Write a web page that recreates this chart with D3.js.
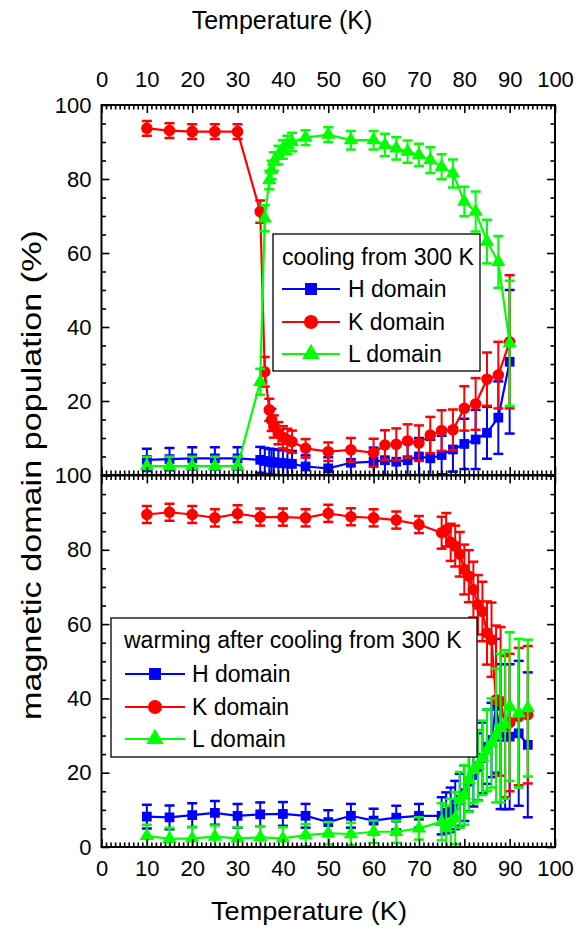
<!DOCTYPE html>
<html>
<head>
<meta charset="utf-8">
<script src="https://cdn.jsdelivr.net/npm/d3@7"></script>
<style>
  html, body { margin: 0; padding: 0; background: #fff; }
  svg { display: block; font-family: "Liberation Sans", Arial, sans-serif; }
</style>
</head>
<body>
<svg id="chart" width="584" height="929"></svg>
<script>
// ---- cooling from 300 K (upper panel) ----
const tempCool = [10, 15, 20, 25, 30, 35, 36, 37, 37.5, 38, 39, 40, 41, 42, 45, 50, 55, 60, 62.5, 65, 67.5, 70, 72.5, 75, 77.5, 80, 82.5, 85, 87.5, 90];
const hCool    = [4.1, 4.3, 4.5, 4.5, 4.5, 4.1, 3.8, 3.6, 3.5, 3.4, 3.3, 3.2, 3.1, 3.0, 2.3, 1.8, 3.3, 3.6, 4.0, 3.6, 4.0, 5.0, 4.5, 5.4, 6.9, 8.4, 9.6, 11.4, 15.5, 30.6];
const kCool    = [93.7, 93.1, 92.8, 92.8, 92.8, 71.2, 27.9, 17.6, 14.9, 13.1, 11.3, 10.2, 9.5, 9.0, 7.2, 6.3, 6.8, 6.0, 8.1, 8.3, 9.2, 8.6, 10.8, 12.0, 12.2, 18.0, 19.2, 25.9, 27.0, 36.0];
const lCool    = [2.4, 2.4, 2.4, 2.4, 2.4, 25.2, 69.4, 79.7, 82.4, 84.7, 86.5, 88.0, 89.2, 90.0, 91.2, 92.0, 90.5, 90.5, 89.2, 88.3, 87.4, 86.5, 85.1, 83.3, 81.5, 73.9, 71.2, 63.1, 57.6, 35.6];
const hCoolErr = [3.0, 3.0, 3.0, 3.0, 3.0, 3.5, 3.5, 3.5, 3.5, 3.5, 3.5, 3.5, 3.5, 3.5, 3.0, 3.0, 3.5, 3.8, 4.0, 4.2, 4.5, 5.0, 5.0, 5.2, 6.0, 6.8, 8.0, 7.0, 9.8, 19.4];
const kCoolErr = [2.0, 2.0, 2.0, 2.0, 2.0, 3.0, 4.0, 3.0, 3.0, 3.0, 3.0, 3.0, 3.0, 3.0, 2.5, 2.5, 3.2, 3.8, 4.0, 4.3, 4.5, 4.8, 4.9, 5.5, 5.5, 6.0, 7.0, 7.2, 9.0, 18.0];
const lCoolErr = [2.5, 2.5, 2.5, 2.5, 2.5, 3.5, 3.5, 2.5, 2.5, 2.5, 2.5, 2.5, 2.5, 2.5, 2.0, 2.0, 2.5, 2.5, 3.0, 3.0, 3.0, 3.0, 3.5, 3.4, 3.8, 4.0, 5.4, 5.9, 7.0, 16.9];

// ---- warming after cooling from 300 K (lower panel) ----
const tempWarm = [10, 15, 20, 25, 30, 35, 40, 45, 50, 55, 60, 65, 70, 75, 76, 77, 78, 79, 80, 81, 82, 83, 84, 85, 86, 87, 88, 89, 90, 92, 94];
const hWarm    = [8.2, 8.0, 8.6, 9.2, 8.4, 8.8, 8.9, 8.4, 6.7, 8.4, 7.1, 7.9, 8.4, 8.4, 9.2, 10.0, 11.3, 12.7, 14.5, 17.6, 19.4, 21.6, 24.0, 27.0, 28.8, 38.0, 29.7, 29.7, 29.7, 30.6, 27.5];
const kWarm    = [89.5, 90.1, 89.5, 88.6, 89.7, 88.8, 88.8, 88.6, 89.8, 88.9, 88.6, 88.0, 86.8, 84.6, 85.4, 82.0, 81.0, 78.8, 74.7, 72.9, 69.3, 65.2, 63.4, 57.6, 55.8, 39.6, 39.2, 32.4, 33.5, 35.1, 35.6];
const lWarm    = [3.0, 2.2, 2.3, 2.8, 2.3, 2.6, 2.3, 3.2, 3.7, 3.5, 4.1, 4.1, 5.0, 6.8, 5.1, 6.5, 7.8, 12.7, 14.0, 18.0, 20.8, 22.0, 24.0, 26.0, 28.0, 30.0, 32.0, 33.0, 37.8, 36.0, 37.4];
const hWarmErr = [3.2, 3.2, 3.2, 3.2, 3.2, 3.2, 3.2, 3.2, 3.2, 3.2, 3.2, 3.2, 3.2, 5.0, 5.5, 6.0, 6.5, 7.0, 7.5, 8.0, 8.5, 9.0, 9.5, 10.0, 10.0, 18.0, 19.5, 19.5, 19.5, 19.5, 19.5];
const kWarmErr = [2.3, 2.3, 2.3, 2.3, 2.3, 2.3, 2.3, 2.3, 2.3, 2.3, 2.3, 2.3, 2.3, 4.3, 4.5, 5.0, 5.5, 6.0, 6.7, 7.0, 7.5, 8.0, 8.0, 8.5, 10.0, 20.0, 20.0, 19.0, 18.5, 18.5, 18.5];
const lWarmErr = [3.0, 3.0, 3.0, 3.0, 3.0, 3.0, 3.0, 3.0, 3.0, 3.0, 3.0, 3.0, 3.0, 5.0, 6.0, 6.5, 7.0, 7.5, 8.0, 8.5, 9.0, 9.5, 10.0, 11.0, 12.0, 18.0, 20.0, 20.0, 20.0, 20.0, 18.4];

// ---- axis ticks and labels ----
const xMajorTicks = [0, 10, 20, 30, 40, 50, 60, 70, 80, 90, 100];
const yTicksTop = [20, 40, 60, 80, 100];          // the lower panel's "100" sits on the shared edge
const yTicksBottom = [0, 20, 40, 60, 80, 100];
const seriesNames = ["H domain", "K domain", "L domain"];
const seriesColors = ["#0000ff", "#ff0000", "#00ff00"];
const coolTitle = "cooling from 300 K";
const warmTitle = "warming after cooling from 300 K";
const xTitle = "Temperature (K)";
const yTitle = "magnetic domain population (%)";

const svg = d3.select("#chart");
const x = d3.scaleLinear().domain([0, 100]).range([101.5, 555]);
const yTop = d3.scaleLinear().domain([0, 100]).range([475, 105]);
const yBot = d3.scaleLinear().domain([0, 100]).range([847, 475.5]);

const xMinor = d3.range(0, 101, 1).filter(v => v % 10 !== 0);
const yMinor = d3.range(0, 101, 5).filter(v => v % 20 !== 0);
const yMajorAll = [0, 20, 40, 60, 80, 100];

const symbols = [d3.symbolSquare, d3.symbolCircle, d3.symbolTriangle];
const symbolSizes = [95, 105, 90];

function styleAxis(g, fontSize) {
  g.selectAll("path.domain").remove();
  g.selectAll(".tick line").attr("stroke", "#000").attr("stroke-width", 1.6);
  g.selectAll(".tick text").attr("fill", "#000").attr("font-size", fontSize)
    .attr("font-family", "'Liberation Sans', Arial, sans-serif");
}

function drawPanel(yScale, opts) {
  const top = yScale(100), bottom = yScale(0);
  const left = x(0), right = x(100);
  const clipId = "clip-" + opts.id;
  svg.append("clipPath").attr("id", clipId)
    .append("rect").attr("x", left).attr("y", top).attr("width", right - left).attr("height", bottom - top);

  // data: error bars, lines, markers per series
  const dataG = svg.append("g").attr("clip-path", `url(#${clipId})`);
  opts.series.forEach((s, i) => {
    const pts = opts.temps.map((t, j) => ({ t, v: s.values[j], e: s.errors[j] }));
    const col = seriesColors[i];
    const g = dataG.append("g");
    const eb = g.selectAll("g.err").data(pts).join("g").attr("class", "err")
      .attr("stroke", col).attr("stroke-width", 2);
    eb.append("line")
      .attr("x1", d => x(d.t)).attr("x2", d => x(d.t))
      .attr("y1", d => yScale(d.v + d.e)).attr("y2", d => yScale(d.v - d.e));
    eb.append("line")
      .attr("x1", d => x(d.t) - 5).attr("x2", d => x(d.t) + 5)
      .attr("y1", d => yScale(d.v + d.e)).attr("y2", d => yScale(d.v + d.e)).attr("stroke-width", 2.5);
    eb.append("line")
      .attr("x1", d => x(d.t) - 5).attr("x2", d => x(d.t) + 5)
      .attr("y1", d => yScale(d.v - d.e)).attr("y2", d => yScale(d.v - d.e)).attr("stroke-width", 2.5);
    g.append("path").datum(pts)
      .attr("fill", "none").attr("stroke", col).attr("stroke-width", 2.2)
      .attr("d", d3.line().x(d => x(d.t)).y(d => yScale(d.v)));
    g.selectAll("path.mk").data(pts).join("path").attr("class", "mk")
      .attr("transform", d => `translate(${x(d.t)},${yScale(d.v)})`)
      .attr("d", d3.symbol().type(symbols[i]).size(symbolSizes[i]))
      .attr("fill", col);
  });

  // frame
  svg.append("rect").attr("x", left).attr("y", top).attr("width", right - left).attr("height", bottom - top)
    .attr("fill", "none").attr("stroke", "#000").attr("stroke-width", 2);

  // y axes (ticks inward)
  const yl = svg.append("g").attr("transform", `translate(${left},0)`)
    .call(d3.axisLeft(yScale).tickValues(yMajorAll).tickSize(-8).tickFormat(""));
  styleAxis(yl, 22);
  const ylLab = svg.append("g").attr("transform", `translate(${left},0)`)
    .call(d3.axisLeft(yScale).tickValues(opts.yLabels).tickSize(0).tickPadding(10).tickFormat(d3.format("d")));
  styleAxis(ylLab, 22);
  const ylm = svg.append("g").attr("transform", `translate(${left},0)`)
    .call(d3.axisLeft(yScale).tickValues(yMinor).tickSize(-4.5).tickFormat(""));
  styleAxis(ylm, 22);
  const yr = svg.append("g").attr("transform", `translate(${right},0)`)
    .call(d3.axisRight(yScale).tickValues(yMajorAll).tickSize(-8).tickFormat(""));
  styleAxis(yr, 22);
  const yrm = svg.append("g").attr("transform", `translate(${right},0)`)
    .call(d3.axisRight(yScale).tickValues(yMinor).tickSize(-4.5).tickFormat(""));
  styleAxis(yrm, 22);

  // x axes (ticks inward)
  const xt = svg.append("g").attr("transform", `translate(0,${top})`)
    .call(d3.axisTop(x).tickValues(xMajorTicks).tickSize(-8).tickPadding(18)
      .tickFormat(opts.topLabels ? d3.format("d") : ""));
  styleAxis(xt, 22);
  const xtm = svg.append("g").attr("transform", `translate(0,${top})`)
    .call(d3.axisTop(x).tickValues(xMinor).tickSize(-4.5).tickFormat(""));
  styleAxis(xtm, 22);
  const xb = svg.append("g").attr("transform", `translate(0,${bottom})`)
    .call(d3.axisBottom(x).tickValues(xMajorTicks).tickSize(-8).tickPadding(13)
      .tickFormat(opts.bottomLabels ? d3.format("d") : ""));
  styleAxis(xb, 22);
  const xbm = svg.append("g").attr("transform", `translate(0,${bottom})`)
    .call(d3.axisBottom(x).tickValues(xMinor).tickSize(-4.5).tickFormat(""));
  styleAxis(xbm, 22);

  // legend
  const L = opts.legend;
  const lg = svg.append("g");
  lg.append("rect").attr("x", L.x).attr("y", L.y).attr("width", L.w).attr("height", L.h)
    .attr("fill", "#fff").attr("stroke", "#000").attr("stroke-width", 1.3);
  lg.append("text").attr("x", L.titleX).attr("y", L.titleY).attr("font-size", 23).attr("fill", "#000")
    .text(L.title);
  seriesNames.forEach((name, i) => {
    const cy = L.rowY[i];
    lg.append("line").attr("x1", L.lineX1).attr("x2", L.lineX2).attr("y1", cy).attr("y2", cy)
      .attr("stroke", seriesColors[i]).attr("stroke-width", 2.2);
    lg.append("path").attr("transform", `translate(${(L.lineX1 + L.lineX2) / 2},${cy})`)
      .attr("d", d3.symbol().type(symbols[i]).size(symbolSizes[i] * 1.5)).attr("fill", seriesColors[i]);
    lg.append("text").attr("x", L.textX).attr("y", cy + 8).attr("font-size", 23).attr("fill", "#000").text(name);
  });
}

drawPanel(yTop, {
  id: "cool", temps: tempCool, topLabels: true, bottomLabels: false, yLabels: yTicksTop,
  series: [
    { values: hCool, errors: hCoolErr },
    { values: kCool, errors: kCoolErr },
    { values: lCool, errors: lCoolErr }
  ],
  legend: { x: 273, y: 234, w: 207, h: 137, title: coolTitle, titleX: 282, titleY: 265,
            rowY: [289, 322, 354], lineX1: 282, lineX2: 340, textX: 348 }
});

drawPanel(yBot, {
  id: "warm", temps: tempWarm, topLabels: false, bottomLabels: true, yLabels: yTicksBottom,
  series: [
    { values: hWarm, errors: hWarmErr },
    { values: kWarm, errors: kWarmErr },
    { values: lWarm, errors: lWarmErr }
  ],
  legend: { x: 111, y: 618, w: 366, h: 139, title: warmTitle, titleX: 124, titleY: 648,
            rowY: [674, 707, 739], lineX1: 125, lineX2: 185, textX: 192 }
});

// axis titles
svg.append("text").attr("x", 282).attr("y", 29).attr("text-anchor", "middle")
  .attr("font-size", 25).attr("fill", "#000").text(xTitle);
svg.append("text").attr("x", 309).attr("y", 920).attr("text-anchor", "middle")
  .attr("font-size", 25).attr("fill", "#000")
  .attr("textLength", 196).attr("lengthAdjust", "spacingAndGlyphs").text(xTitle);
svg.append("text").attr("transform", "translate(41,475) rotate(-90)").attr("text-anchor", "middle")
  .attr("font-size", 27).attr("fill", "#000")
  .attr("textLength", 490).attr("lengthAdjust", "spacingAndGlyphs").text(yTitle);
</script>
</body>
</html>
